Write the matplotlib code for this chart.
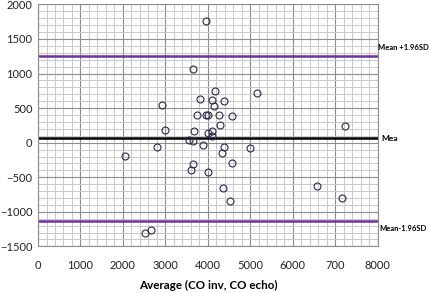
import matplotlib
matplotlib.use("Agg")
import matplotlib.pyplot as plt
from matplotlib.ticker import MultipleLocator

# Bland-Altman: average vs difference (CO inv, CO echo)
avg = [3960, 3647, 4165, 5165, 3820, 4098, 4380, 4141, 2910,
       3753, 3965, 4000, 4251, 4576, 4286, 2980, 3678, 4106,
       4008, 4106, 3548, 3655, 2808, 3886, 4376, 5000, 4322,
       4560, 3655, 3608, 4000, 4361, 4530, 2047, 2510, 2652,
       6558, 7146, 7224]
diff = [1760, 1069, 752, 719, 634, 611, 597, 526, 552,
        403, 403, 403, 407, 379, 262, 188, 176, 176,
        134, 95, 45, 21, -64, -40, -62, -78, -145,
        -300, -307, -393, -417, -660, -843, -193, -1303, -1269,
        -621, -797, 246]

mean_diff = 65
upper = 1260
lower = -1130

xticks = [0, 1000, 2000, 3000, 4000, 5000, 6000, 7000, 8000]
xtick_labels = ["0", "1000", "2000", "3000", "4000", "5000", "6000", "700", "8000"]
yticks = [-1500, -1000, -500, 0, 500, 1000, 1500, 2000]

plt.rcParams["font.family"] = ["Lato", "DejaVu Sans"]

fig = plt.figure(figsize=(4.29, 2.93), dpi=100)
ax = fig.add_axes([0.0886, 0.159, 0.792, 0.826])

ax.set_xlim(0, 8000)
ax.set_ylim(-1500, 2000)
ax.set_xticks(xticks)
ax.set_xticklabels(xtick_labels)
ax.set_yticks(yticks)
ax.xaxis.set_minor_locator(MultipleLocator(200))
ax.yaxis.set_minor_locator(MultipleLocator(100))
ax.grid(which="major", color="#8c8c8c", linewidth=0.8)
ax.grid(which="minor", color="#c8c8c8", linewidth=0.7)
ax.set_axisbelow(True)
ax.tick_params(which="both", length=0, labelsize=8, colors="#222222")
ax.tick_params(axis="x", pad=10)
ax.tick_params(axis="y", pad=4)
for s in ax.spines.values():
    s.set_color("#8c8c8c")
    s.set_linewidth(0.8)

ax.axhline(upper, color="#7030a0", linewidth=1.8, zorder=2)
ax.axhline(lower, color="#7030a0", linewidth=1.8, zorder=2)
ax.axhline(mean_diff, color="black", linewidth=1.8, zorder=2)

ax.plot(avg, diff, "o", markersize=5, markerfacecolor="none",
        markeredgecolor="#2a2a4a", markeredgewidth=0.8, zorder=3)

ax.text(1.002, upper + 60, "Mean +1.96SD", transform=ax.get_yaxis_transform(),
        fontsize=5.5, fontweight="bold", va="bottom", ha="left", clip_on=False)
ax.text(1.012, mean_diff, "Mea", transform=ax.get_yaxis_transform(),
        fontsize=6, fontweight="bold", va="center", ha="left", clip_on=False)
ax.text(1.006, lower - 60, "Mean-1.96SD", transform=ax.get_yaxis_transform(),
        fontsize=5.5, fontweight="bold", va="top", ha="left", clip_on=False)

ax.set_xlabel("Average (CO inv, CO echo)", fontsize=8.4, fontweight="bold", labelpad=6)

fig.savefig("out.png", dpi=100)
